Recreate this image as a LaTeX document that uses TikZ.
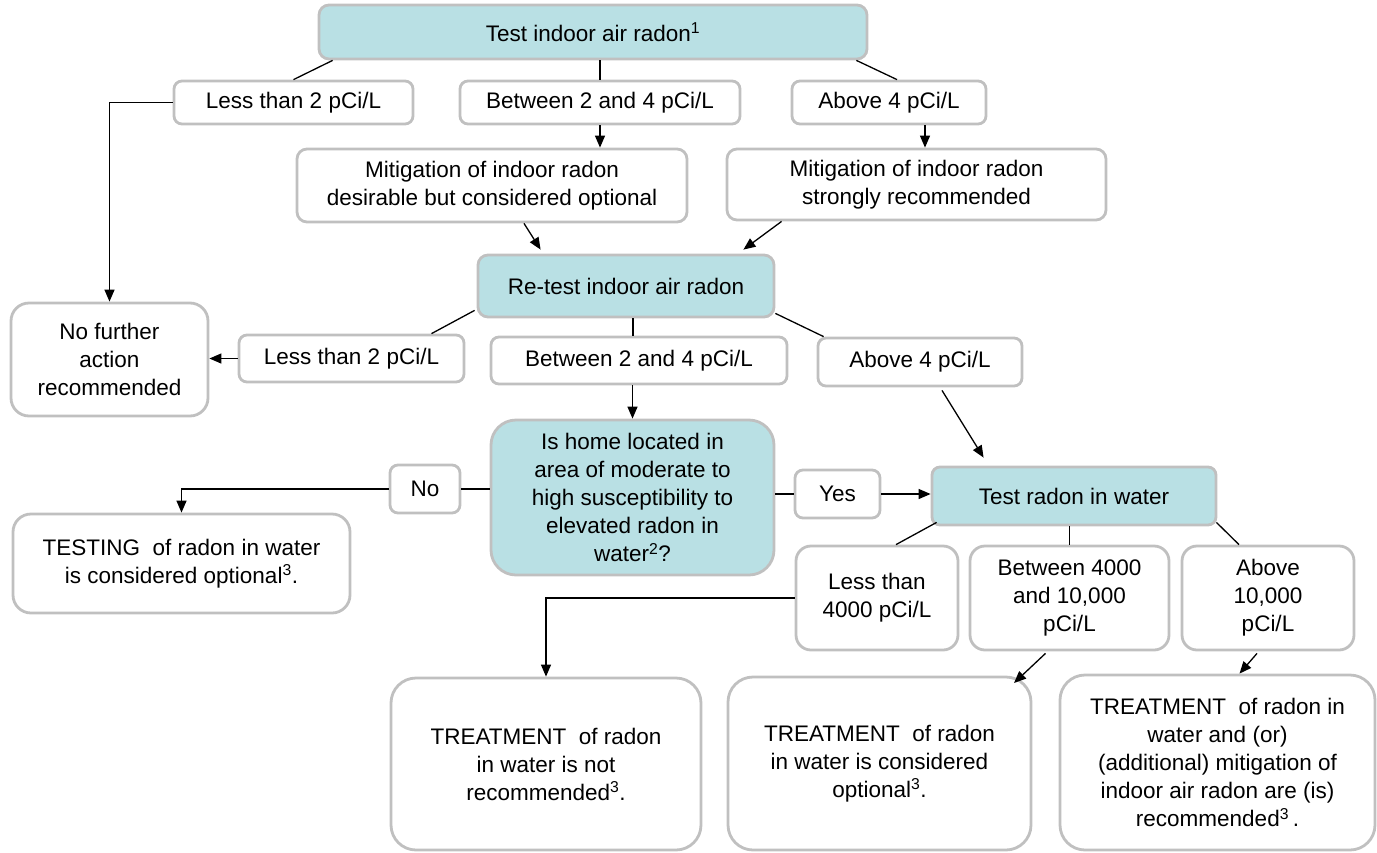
\documentclass[tikz,border=0pt]{standalone}
\usepackage{fontspec}
\setmainfont{Liberation Sans}
\usetikzlibrary{arrows.meta,calc}
\definecolor{tealfill}{RGB}{185,224,228}
\definecolor{bordergray}{RGB}{192,192,192}
\begin{document}
\begin{tikzpicture}[x=1pt,y=-1pt,
  every node/.style={font=\fontsize{22.5}{28}\selectfont},
  bx/.style={draw=bordergray, line width=2.8pt, fill=white, rounded corners=#1, align=center, inner sep=0pt},
  bx/.default=8pt,
  tbx/.style={bx=#1, fill=tealfill},
  tbx/.default=8pt,
  ln/.style={line width=1.3pt, draw=black},
  ar/.style={ln, -{Triangle[length=12pt,width=10pt]}}]
\useasboundingbox (0,0) rectangle (1377,852);
% nodes
\node[tbx=10pt, minimum width=548pt, minimum height=54pt] (top) at (593,32) {Test indoor air radon\textsuperscript{1}};
\node[bx, minimum width=239pt, minimum height=43pt] (L1) at (293.5,102.5) {Less than 2 pCi/L};
\node[bx, minimum width=280pt, minimum height=43pt] (B1) at (600,102.5) {Between 2 and 4 pCi/L};
\node[bx, minimum width=194pt, minimum height=43pt] (A1) at (889,102.5) {Above 4 pCi/L};
\node[bx=10pt, minimum width=390pt, minimum height=73pt] (M1) at (492,185.5) {Mitigation of indoor radon\\desirable but considered optional};
\node[bx=10pt, minimum width=379pt, minimum height=71pt] (M2) at (916.5,184.5) {Mitigation of indoor radon\\strongly recommended};
\node[tbx=10pt, minimum width=296pt, minimum height=62pt] (RT) at (626,286) {Re-test indoor air radon};
\node[bx=18pt, minimum width=197pt, minimum height=113pt] (NF) at (109.5,359.5) {No further\\action\\recommended};
\node[bx, minimum width=225pt, minimum height=47pt] (L2) at (351.5,358.5) {Less than 2 pCi/L};
\node[bx, minimum width=296pt, minimum height=47pt] (B2) at (639,360.5) {Between 2 and 4 pCi/L};
\node[bx, minimum width=204pt, minimum height=48pt] (A2) at (920,362) {Above 4 pCi/L};
\node[tbx=25pt, minimum width=283pt, minimum height=155pt] (IH) at (632.5,497.5) {Is home located in\\area of moderate to\\high susceptibility to\\elevated radon in\\water\textsuperscript{2}?};
\node[bx, minimum width=70pt, minimum height=48pt] (No) at (425,489) {No};
\node[bx=18pt, minimum width=337pt, minimum height=99pt] (TS) at (181.5,563.5) {TESTING\ \ of radon in water\\is considered optional\textsuperscript{3}.};
\node[bx, minimum width=85pt, minimum height=48pt] (Yes) at (837.5,494) {Yes};
\node[tbx=8pt, minimum width=284pt, minimum height=58pt] (TW) at (1074,496) {Test radon in water};
\node[bx=15pt, minimum width=162pt, minimum height=104pt] (L3) at (877,598) {Less than\\4000 pCi/L};
\node[bx=15pt, minimum width=199pt, minimum height=104pt] (B3) at (1069.5,598) {Between 4000\\and 10,000\\pCi/L};
\node[bx=15pt, minimum width=172pt, minimum height=104pt] (A3) at (1268,598) {Above\\10,000\\pCi/L};
\node[bx=25pt, minimum width=310pt, minimum height=172pt] (T1) at (546,764) {TREATMENT\ \ of radon\\in water is not\\recommended\textsuperscript{3}.};
\node[bx=25pt, minimum width=303pt, minimum height=173pt] (T2) at (879.5,763.5) {TREATMENT\ \ of radon\\in water is considered\\optional\textsuperscript{3}.};
\node[bx=25pt, minimum width=315pt, minimum height=175pt] (T3) at (1217.5,762.5) {TREATMENT\ \ of radon in\\water and (or)\\(additional) mitigation of\\indoor air radon are (is)\\recommended\textsuperscript{3}\,.};
% connectors from top
\draw[ln] ($(top.south west)+(15,0)$) -- (L1.north);
\draw[ln] (B1.north |- top.south) -- (B1.north);
\draw[ln] ($(top.south east)+(-12,0)$) -- ($(A1.north)+(8,0)$);
\draw[ar] (L1.west) -| (NF.north);
\draw[ar] (B1.south) -- (B1.south |- M1.north);
\coordinate (a1s) at ($(A1.south)+(36,0)$);
\draw[ar] (a1s) -- (a1s |- M2.north);
\draw[ar] ($(M1.south)+(32,0)$) -- ($(RT.north west)+(64,-4)$);
\draw[ar] ($(M2.south west)+(56,0)$) -- ($(RT.north east)+(-32,-4)$);
% from re-test
\draw[ln] ($(RT.south west)+(-2,-8)$) -- ($(L2.north)+(80,0)$);
\coordinate (rts) at ($(RT.south)+(7,0)$);
\draw[ln] (rts) -- (rts |- B2.north);
\draw[ln] ($(RT.south east)+(0,-5)$) -- ($(A2.north west)+(7,0)$);
\draw[ar] (L2.west) -- (L2.west -| NF.east);
\draw[ar] (IH.north |- B2.south) -- (IH.north);
\draw[ar] ($(A2.south)+(22,3)$) -- ($(TW.north west)+(53,-8)$);
% decision
\draw[ln] (No.east) -- (No.east -| IH.west);
\draw[ar] (No.west) -| (TS.north);
\draw[ln] (Yes.west) -- (Yes.west -| IH.east);
\draw[ar] (Yes.east) -- (Yes.east -| TW.west);
% from test water
\draw[ln] ($(TW.south west)+(6,-4)$) -- ($(L3.north)+(19,0)$);
\draw[ln] (B3.north |- TW.south) -- (B3.north);
\draw[ln] ($(TW.south east)+(-1,-4)$) -- ($(A3.north)+(-29,0)$);
\draw[ar] (L3.west) -| (T1.north);
\draw[ar] ($(B3.south)+(-24,2)$) -- (1014,683);
\draw[ar] ($(A3.south)+(-11,2)$) -- ($(T3.north)+(22,0)$);
\end{tikzpicture}
\end{document}
